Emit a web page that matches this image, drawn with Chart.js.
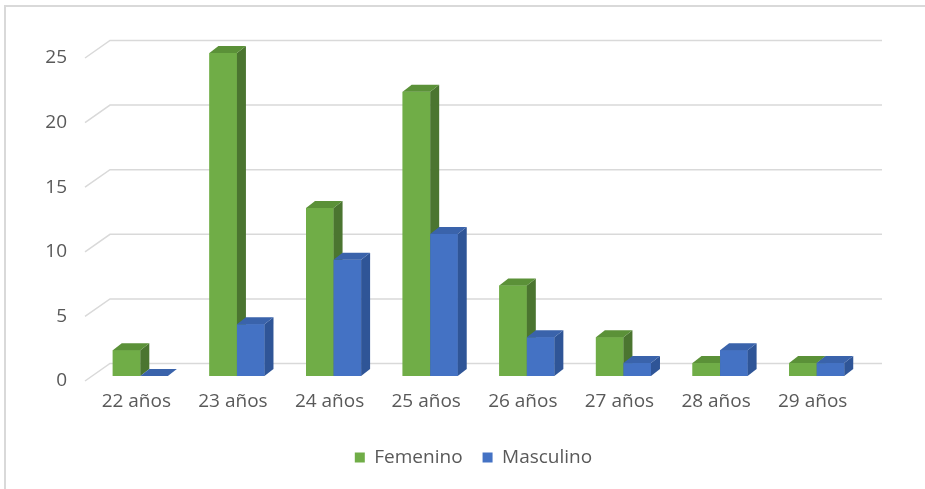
<!DOCTYPE html>
<html>
<head>
<meta charset="utf-8">
<script src="https://cdn.jsdelivr.net/npm/chart.js@4/dist/chart.umd.min.js"></script>
<style>
  html, body { margin: 0; padding: 0; background: #fff; overflow: hidden; }
  .wrap { position: relative; width: 925px; height: 489px; }
  .frame {
    position: absolute; left: 4px; top: 5px; width: 1000px; height: 600px;
    border-left: 2px solid #d9d9d9; border-top: 2px solid #d9d9d9;
    pointer-events: none;
  }
  canvas { position: absolute; left: 0; top: 0; }
</style>
</head>
<body>
<div class="wrap">
  <canvas id="chart" width="925" height="489"></canvas>
  <div class="frame"></div>
</div>
<script>
const categories = ["22 años", "23 años", "24 años", "25 años", "26 años", "27 años", "28 años", "29 años"];
const femenino = [2, 25, 13, 22, 7, 3, 1, 1];
const masculino = [0, 4, 9, 11, 3, 1, 2, 1];
const yTicks = [0, 5, 10, 15, 20, 25];

const textColor = "#595959";
const gridColor = "#d9d9d9";
const fontFamily = "'Open Sans', 'Noto Sans', sans-serif";

// faces drawn for the fake 3D look: [front, top, side]
const shades = {
  Femenino: ["#70ad47", "#5b9138", "#4b7530"],
  Masculino: ["#4472c4", "#3a63ab", "#2f5597"],
};
const depthX = 9;
const depthY = 7;

// back wall + floor-edge grid lines, offset from the value positions
const wallGrid = {
  id: "wallGrid",
  beforeDatasetsDraw(chart) {
    const { ctx, chartArea } = chart;
    const y = chart.scales.y;
    ctx.save();
    ctx.strokeStyle = gridColor;
    ctx.lineWidth = 1.5;
    yTicks.forEach((v) => {
      const py = y.getPixelForValue(v);
      ctx.beginPath();
      ctx.moveTo(chartArea.left - 7, py + 5);
      ctx.lineTo(chartArea.left + 18, py - 12.5);
      ctx.lineTo(chartArea.right + 17, py - 12.5);
      ctx.stroke();
    });
    ctx.restore();
  },
};

// redraw the bars left to right so each one's front hides the previous side face
const bars3d = {
  id: "bars3d",
  afterDatasetsDraw(chart) {
    const { ctx } = chart;
    chart.data.datasets.forEach((ds, i) => {
      const meta = chart.getDatasetMeta(i);
      const [, topC, sideC] = shades[ds.label];
      ctx.save();
      meta.data.forEach((bar) => {
        bar.draw(ctx, chart.chartArea);
        const p = bar.getProps(["x", "y", "base", "width"], true);
        const l = p.x - p.width / 2;
        const r = p.x + p.width / 2;
        ctx.fillStyle = sideC;
        ctx.beginPath();
        ctx.moveTo(r, p.y);
        ctx.lineTo(r + depthX, p.y - depthY);
        ctx.lineTo(r + depthX, p.base - depthY);
        ctx.lineTo(r, p.base);
        ctx.closePath();
        ctx.fill();
        ctx.fillStyle = topC;
        ctx.beginPath();
        ctx.moveTo(l, p.y);
        ctx.lineTo(l + depthX, p.y - depthY);
        ctx.lineTo(r + depthX, p.y - depthY);
        ctx.lineTo(r, p.y);
        ctx.closePath();
        ctx.fill();
      });
      ctx.restore();
    });
  },
};

// the legend sits centred on the whole frame, not on the padded plot
const legendShift = {
  id: "legendShift",
  afterLayout(chart) {
    chart.legend.left += 41;
    chart.legend.right += 41;
  },
};

new Chart(document.getElementById("chart"), {
  type: "bar",
  data: {
    labels: categories,
    datasets: [
      { label: "Femenino", data: femenino, backgroundColor: shades.Femenino[0] },
      { label: "Masculino", data: masculino, backgroundColor: shades.Masculino[0] },
    ],
  },
  options: {
    responsive: false,
    animation: false,
    events: [],
    categoryPercentage: 0.57,
    barPercentage: 1,
    layout: { padding: { left: 0, right: 60, top: 53, bottom: 12 } },
    plugins: {
      tooltip: { enabled: false },
      legend: {
        position: "bottom",
        labels: {
          boxWidth: 10,
          boxHeight: 10,
          padding: 20,
          color: textColor,
          font: { family: fontFamily, size: 19 },
        },
      },
    },
    scales: {
      x: {
        grid: { display: false, drawTicks: false },
        border: { display: false },
        ticks: {
          color: textColor,
          font: { family: fontFamily, size: 19 },
          padding: 14,
          labelOffset: -4,
          maxRotation: 0,
        },
        afterFit: (s) => { s.height = 52; },
      },
      y: {
        min: 0,
        max: 25,
        grid: { display: false, drawTicks: false },
        border: { display: false },
        ticks: {
          stepSize: 5,
          color: textColor,
          font: { family: fontFamily, size: 19 },
          padding: 25,
          labelOffset: 5,
        },
        afterFit: (s) => { s.width = 92; },
      },
    },
  },
  plugins: [wallGrid, bars3d, legendShift],
});
</script>
</body>
</html>
